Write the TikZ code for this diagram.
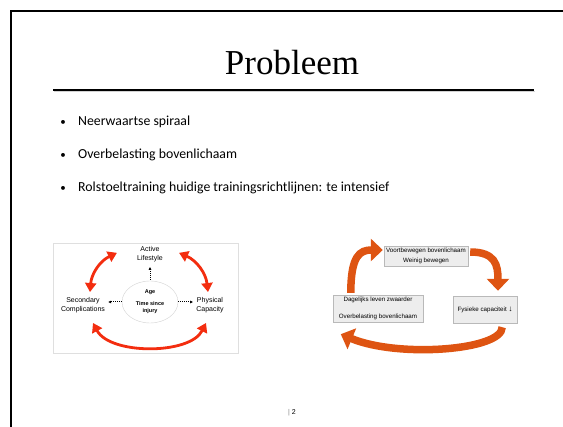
\documentclass[tikz,border=0pt]{standalone}
\usepackage{fontspec}
\setmainfont{Carlito}
\newfontfamily\titleFont{Liberation Serif}
\newfontfamily\diagramFont{Liberation Sans}
\usepackage{xcolor}
\definecolor{LOOPCOLOR}{RGB}{243,45,15}
\definecolor{SPIRALCOLOR}{RGB}{222,84,18}
\colorlet{BOXCOLOR}{gray!14}
\colorlet{EDGECOLOR}{gray!55}
\usepackage{tikz}
\usetikzlibrary{shapes,arrows.meta,positioning,calc}
\tikzset{
  slide-style/.style = {x=1pt, y=-1pt},
  title-style/.style = {
    anchor=base, inner sep=0pt,
    font=\titleFont\fontsize{35}{40}\selectfont
  },
  rule-style/.style = {line width=1.5pt},
  bullet-style/.style = {
    anchor=base west, inner sep=0pt,
    font=\fontsize{13.8}{16}\selectfont
  },
  bullet-dot-style/.style = {
    anchor=base, inner sep=0pt,
    font=\fontsize{11}{12}\selectfont
  },
  label-style/.style = {
    align=center, inner sep=1pt,
    font=\diagramFont\fontsize{7}{9}\selectfont
  },
  factor-style/.style = {
    ellipse, draw=gray!35, thin,
    minimum width=56pt, minimum height=42pt, inner sep=0pt,
    align=center,
    font=\diagramFont\bfseries\fontsize{5.5}{7}\selectfont
  },
  dot-style/.style = {
    -{Latex[length=3pt,width=3pt]}, densely dotted, line width=1pt
  },
  loop-style/.style = {
    {Triangle[length=9pt,width=11pt]}-{Triangle[length=9pt,width=11pt]},
    line width=2.8pt, draw=LOOPCOLOR
  },
  box-style/.style = {
    rectangle, draw=EDGECOLOR, fill=BOXCOLOR, inner sep=1pt,
    align=center,
    font=\diagramFont\fontsize{6.2}{10}\selectfont
  },
  spiral-style/.style = {
    -{Triangle[length=12pt,width=22pt]}, line width=7.5pt, draw=SPIRALCOLOR
  },
  page-style/.style = {
    inner sep=0pt, font=\diagramFont\fontsize{7}{8}\selectfont
  }
}
\def\createBullet name:#1 y:#2 text:#3;{
  \node [bullet-dot-style] (#1-dot) at (63,#2) {\textbullet};
  \node [bullet-style] (#1) at (78,#2) {#3};
}
\def\createBox name:#1 at:#2 width:#3 height:#4 text:#5;{
  \node [box-style, minimum width=#3, minimum height=#4] (#1) at #2 {#5};
}

\begin{document}
\begin{tikzpicture}[slide-style]
  \useasboundingbox (0,0) rectangle (563,427);
  % slide frame and title
  \draw[line width=2pt] (11,427) -- (11,11) -- (563,11);
  \node[title-style] (title) at (292,75) {Probleem};
  \draw[gray!35, line width=1pt] (54,91.8) -- (535,91.8);
  \draw[rule-style] (53,90) -- (534,90);

  \createBullet name:spiral y:126 text:{Neerwaartse spiraal};
  \createBullet name:overload y:159 text:{Overbelasting bovenlichaam};
  \createBullet name:training y:192 text:{Rolstoeltraining huidige trainingsrichtlijnen: te intensief};

  % left diagram
  \draw[gray!25] (53,243) rectangle (238,353);
  \node[factor-style] (factors) at (150,302) {Age\\[5pt]Time since\\injury};
  \node[label-style, above=18pt of factors] (active) {Active\\Lifestyle};
  \node[label-style] (secondary) at (83,305) {Secondary\\Complications};
  \node[label-style] (physical) at (210,305) {Physical\\Capacity};

  \draw[dot-style, shorten <=1pt, shorten >=4pt] (factors.north) -- (active);
  \draw[dot-style, shorten >=2pt] (factors.west) -- (factors.west -| secondary.east);
  \draw[dot-style, shorten >=2pt] (factors.east) -- (factors.east -| physical.west);

  \draw[loop-style] ($(secondary.north)+(7,-4)$) to[bend left=30] ($(active.west)+(-19,-1)$);
  \draw[loop-style] ($(active.east)+(15,-1)$) to[bend left=30] ($(physical.north)+(-2,-4)$);
  \draw[loop-style] ($(secondary.south)+(10,9)$) .. controls +(17,32) and +(-16,32) .. ($(physical.south)+(-4,9)$);

  % right diagram
  \createBox name:voort at:{(426,256)} width:84pt height:20pt
    text:{Voortbewegen bovenlichaam\\Weinig bewegen};
  \createBox name:dagelijks at:{(378,308.5)} width:90pt height:27pt
    text:{Dagelijks leven zwaarder\\[7pt]Overbelasting bovenlichaam};
  \createBox name:fysiek at:{(485,309.5)} width:64pt height:27pt
    text:{Fysieke capaciteit {\fontsize{8}{8}\selectfont↓}};

  \draw[spiral-style] ($(dagelijks.north west)+(18,-2)$) .. controls +(0,-37) and +(-23,0) .. ($(voort.west)+(-1,-6)$);
  \draw[spiral-style] ($(voort.east)+(2,-4)$) .. controls +(25,0) and +(0,-26) .. ($(fysiek.north)+(13,-5)$);
  \draw[spiral-style] ($(fysiek.south east)+(-15,4)$) .. controls +(0,23) and +(58,24) .. ($(dagelijks.south west)+(8,12)$);

  \node[page-style] (pagenum) at (292,413) {\textcolor{gray}{|} 2};
\end{tikzpicture}
\end{document}
